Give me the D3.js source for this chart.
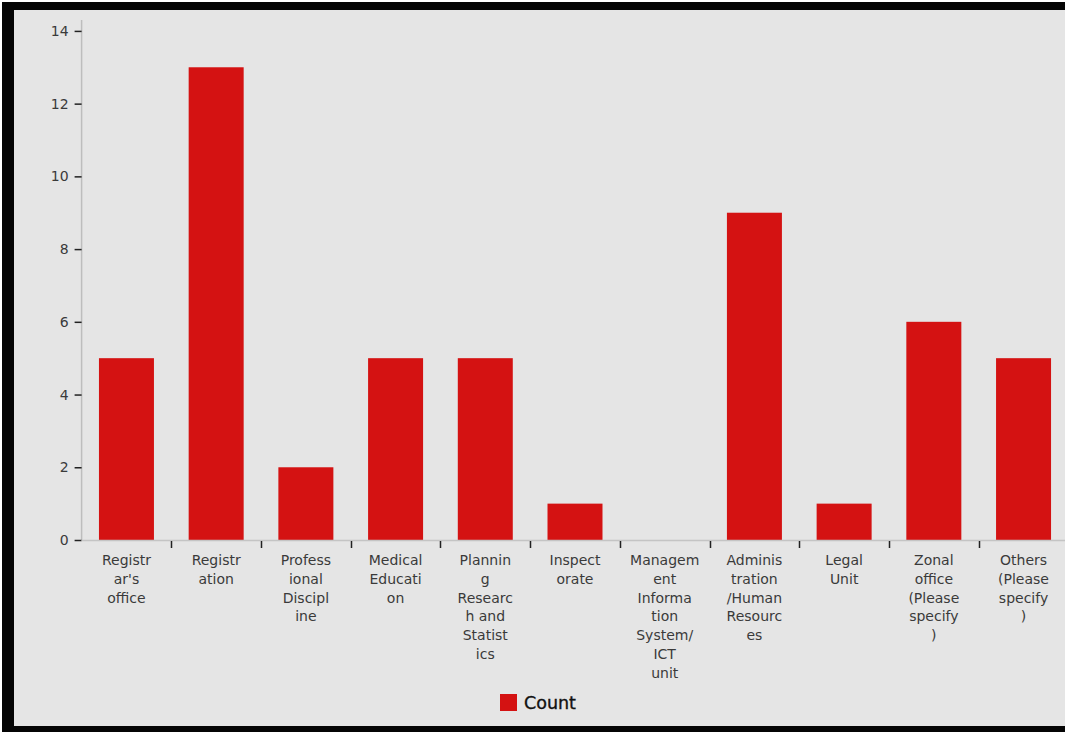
<!DOCTYPE html>
<html>
<head>
<meta charset="utf-8">
<script src="https://cdn.jsdelivr.net/npm/d3@7"></script>
<style>
  html, body { margin: 0; padding: 0; background: #ffffff; }
  svg { display: block; }
  text { font-family: "DejaVu Sans", sans-serif; }
</style>
</head>
<body>
<svg id="chart" width="1065" height="732"></svg>
<script>
// Departments and their counts
const categories = [
  "Registrar's office", "Registration", "Professional Discipline", "Medical Education",
  "Planning Research and Statistics", "Inspectorate", "Management Information System/ICT unit",
  "Administration/Human Resources", "Legal Unit", "Zonal office (Please specify)", "Others (Please specify)"
];
const counts = [5, 13, 2, 5, 5, 1, 0, 9, 1, 6, 5];
// Wrapped axis labels, one entry per line
const tickLabels = [
  ["Registr", "ar's", "office"],
  ["Registr", "ation"],
  ["Profess", "ional", "Discipl", "ine"],
  ["Medical", "Educati", "on"],
  ["Plannin", "g", "Researc", "h and", "Statist", "ics"],
  ["Inspect", "orate"],
  ["Managem", "ent", "Informa", "tion", "System/", "ICT", "unit"],
  ["Adminis", "tration", "/Human", "Resourc", "es"],
  ["Legal", "Unit"],
  ["Zonal", "office", "(Please", "specify", ")"],
  ["Others", "(Please", "specify", ")"]
];
const yTicks = [0, 2, 4, 6, 8, 10, 12, 14];
const seriesName = "Count";

const svg = d3.select("#chart");

// Frame and panel
svg.append("rect").attr("x", 2).attr("y", 2).attr("width", 1063).attr("height", 730).attr("fill", "#050505");
svg.append("rect").attr("x", 14).attr("y", 10).attr("width", 1051).attr("height", 716).attr("fill", "#e5e5e5");

svg.append("clipPath").attr("id", "panel")
  .append("rect").attr("x", 14).attr("y", 10).attr("width", 1051).attr("height", 716);

const g = svg.append("g").attr("clip-path", "url(#panel)");

const x = d3.scaleBand()
  .domain(categories)
  .range([81.6, 1068.4])
  .paddingInner(0.387)
  .paddingOuter(0.1935);

const y = d3.scaleLinear().domain([0, 14.3]).range([540, 20]);

// Bars
g.selectAll("rect.bar")
  .data(categories)
  .join("rect")
  .attr("class", "bar")
  .attr("x", d => x(d))
  .attr("width", x.bandwidth())
  .attr("y", (d, i) => y(counts[i]))
  .attr("height", (d, i) => y(0) - y(counts[i]))
  .attr("fill", "#d41212");

// Y axis
const yAxis = g.append("g")
  .attr("transform", `translate(${x.range()[0]},0)`)
  .call(d3.axisLeft(y).tickValues(yTicks).tickSize(7).tickPadding(6));
yAxis.select(".domain").attr("stroke", "#bdbdbd").attr("stroke-width", 1.5).attr("d", `M0,${y(14.3)}V${y(0)}`);
yAxis.selectAll(".tick line").attr("stroke", "#222").attr("stroke-width", 1.5);
yAxis.selectAll(".tick text")
  .attr("fill", "#3a3a3a")
  .style("font-size", "14px")
  .style("font-family", "DejaVu Sans, sans-serif");

// X axis baseline
const step = x.step();
g.append("line")
  .attr("x1", x.range()[0]).attr("x2", x.range()[1])
  .attr("y1", y(0) + 0.5).attr("y2", y(0) + 0.5)
  .attr("stroke", "#c4c4c4").attr("stroke-width", 1.5);

// Ticks at the band boundaries
const boundaries = categories.slice(1).map(c => x(c) - step * x.paddingInner() / 2);
g.selectAll("line.xtick")
  .data(boundaries)
  .join("line")
  .attr("class", "xtick")
  .attr("x1", d => Math.round(d) + 0.5).attr("x2", d => Math.round(d) + 0.5)
  .attr("y1", y(0) + 1).attr("y2", y(0) + 8)
  .attr("stroke", "#222").attr("stroke-width", 1.5);

// Wrapped category labels
const labels = g.selectAll("text.xlabel")
  .data(categories)
  .join("text")
  .attr("class", "xlabel")
  .attr("text-anchor", "middle")
  .attr("fill", "#3a3a3a")
  .style("font-size", "14px");
labels.each(function (d, i) {
  const t = d3.select(this);
  const cx = x(d) + x.bandwidth() / 2;
  tickLabels[i].forEach((line, j) => {
    t.append("tspan")
      .attr("x", cx)
      .attr("y", 565 + j * 18.8)
      .text(line);
  });
});

// Legend
const legend = svg.append("g").attr("transform", "translate(500,694)");
legend.append("rect").attr("width", 17).attr("height", 17).attr("fill", "#d41212");
legend.append("text")
  .attr("x", 24).attr("y", 14.5)
  .attr("fill", "#111")
  .style("font-size", "17.5px")
  .style("font-weight", "normal")
  .style("stroke", "#111")
  .style("stroke-width", "0.35px")
  .text(seriesName);
</script>
</body>
</html>
